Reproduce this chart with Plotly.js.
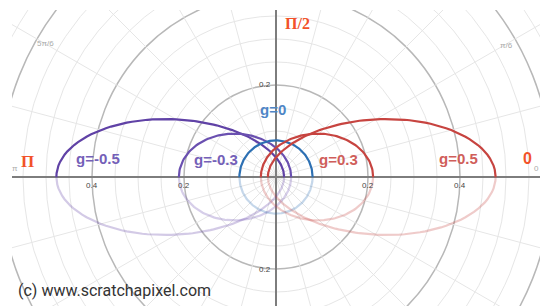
<!DOCTYPE html>
<html><head><meta charset="utf-8">
<script src="https://cdn.plot.ly/plotly-3.0.1.min.js"></script>
<style>html,body{margin:0;padding:0;background:#fff}#chart{width:540px;height:306px}</style>
</head><body><div id="chart"></div>
<script>
// Henyey-Greenstein asymmetry parameters plotted
const gValues = [-0.5, -0.3, 0, 0.3, 0.5];
const gLabels = ['g=-0.5', 'g=-0.3', 'g=0', 'g=0.3', 'g=0.5'];
const curveColors = ['#6042a6', '#6a50b0', '#2d70b3', '#c74440', '#c74440'];
const labelColors = ['#7460b8', '#7460b8', '#4f86c6', '#d05e5a', '#d05e5a'];
// radial tick labels (both sides of the origin)
const radialTicks = [0.2, 0.4];
// angle annotations
const angleMarks = ['Π/2', 'Π', '0'];

function hg(g, th) {
  return (1 - g * g) / (4 * Math.PI * Math.pow(1 + g * g - 2 * g * Math.cos(th), 1.5));
}

const traces = [];
const N = 360;
gValues.forEach((g, i) => {
  for (let half = 0; half < 2; half++) {
    const xs = [], ys = [];
    for (let k = 0; k <= N / 2; k++) {
      const th = Math.PI * half + Math.PI * k / (N / 2);
      const r = hg(g, th);
      xs.push(r * Math.cos(th)); ys.push(r * Math.sin(th));
    }
    traces.push({x: xs, y: ys, mode: 'lines', type: 'scatter', hoverinfo: 'skip',
      opacity: half === 0 ? 1 : 0.28,
      line: {color: curveColors[i], width: 2.2}});
  }
});

// polar grid
const shapes = [];
for (let k = 1; k <= 14; k++) {
  const r = k * 0.05;
  const major = k % 4 === 0;
  shapes.push({type: 'circle', xref: 'x', yref: 'y', x0: -r, y0: -r, x1: r, y1: r, layer: 'below',
    line: {color: major ? '#b8b8b8' : '#e6e6e6', width: major ? 1.5 : 1}});
}
for (let a = 0; a < 360; a += 15) {
  if (a % 90 === 0) continue;
  const t = a * Math.PI / 180;
  shapes.push({type: 'line', xref: 'x', yref: 'y', x0: 0, y0: 0, x1: 0.8 * Math.cos(t), y1: 0.8 * Math.sin(t),
    layer: 'below', line: {color: '#e6e6e6', width: 1}});
}
// axes
shapes.push({type: 'line', xref: 'x', yref: 'y', x0: -1, y0: 0, x1: 1, y1: 0, layer: 'below', line: {color: '#7d7d7d', width: 2}});
shapes.push({type: 'line', xref: 'x', yref: 'y', x0: 0, y0: -1, x1: 0, y1: 1, layer: 'below', line: {color: '#7d7d7d', width: 2}});

const ann = [];
const tickFont = {family: 'Liberation Sans, Arial, sans-serif', size: 8, color: '#444'};
radialTicks.forEach(r => {
  [-1, 1].forEach(s => {
    ann.push({x: s * r, y: 0, xref: 'x', yref: 'y', text: r.toFixed(1), showarrow: false,
      xanchor: 'center', yanchor: 'top', yshift: -2, font: tickFont});
  });
});
ann.push({x: 0, y: radialTicks[0], text: radialTicks[0].toFixed(1), showarrow: false, xanchor: 'right', yanchor: 'middle', xshift: -3, font: tickFont});
ann.push({x: 0, y: -radialTicks[0], text: radialTicks[0].toFixed(1), showarrow: false, xanchor: 'right', yanchor: 'middle', xshift: -3, font: tickFont});

const angFont = {family: 'Liberation Sans, Arial, sans-serif', size: 8, color: '#aaa'};
ann.push({x: -0.5, y: 0.29, text: '5π/6', showarrow: false, font: angFont});
ann.push({x: 0.5, y: 0.285, text: 'π/6', showarrow: false, font: angFont});
ann.push({x: -0.567, y: 0.018, text: 'π', showarrow: false, font: angFont});
ann.push({x: 0.567, y: 0.018, text: '0', showarrow: false, font: angFont});

// curve labels
const labelPos = [[-0.387, 0.041], [-0.130, 0.039], [-0.0065, 0.146], [0.135, 0.039], [0.396, 0.041]];
gLabels.forEach((t, i) => {
  ann.push({x: labelPos[i][0], y: labelPos[i][1], text: '<b>' + t + '</b>', showarrow: false,
    font: {family: 'Liberation Sans, Arial, sans-serif', size: 15, color: labelColors[i]}});
});
// red angle marks
const redC = '#f2522a';
ann.push({x: 0.0457, y: 0.333, text: '<b>' + angleMarks[0] + '</b>', showarrow: false, font: {family: 'Liberation Serif, Times New Roman, serif', size: 16, color: redC}});
ann.push({x: -0.541, y: 0.033, text: '<b>' + angleMarks[1] + '</b>', showarrow: false, font: {family: 'Liberation Serif, Times New Roman, serif', size: 17, color: redC}});
ann.push({x: 0.5457, y: 0.041, text: '<b>' + angleMarks[2] + '</b>', showarrow: false, font: {family: 'Liberation Sans, Arial, sans-serif', size: 16, color: redC}});
// watermark
ann.push({xref: 'paper', yref: 'paper', x: 0.008, y: 0.015, xanchor: 'left', yanchor: 'bottom', text: '(c) www.scratchapixel.com', showarrow: false,
  font: {family: 'Roboto, sans-serif', size: 16, color: '#333'}});

const layout = {
  width: 540, height: 306,
  margin: {l: 12, r: 0, t: 10, b: 0},
  paper_bgcolor: '#fff', plot_bgcolor: '#fff',
  showlegend: false,
  xaxis: {range: [-0.5739, 0.5739], showgrid: false, zeroline: false, showticklabels: false, showline: false, fixedrange: true},
  yaxis: {range: [-0.2804, 0.363], showgrid: false, zeroline: false, showticklabels: false, showline: false, fixedrange: true},
  shapes: shapes,
  annotations: ann
};
Plotly.newPlot('chart', traces, layout, {displayModeBar: false, staticPlot: true});
</script></body></html>
